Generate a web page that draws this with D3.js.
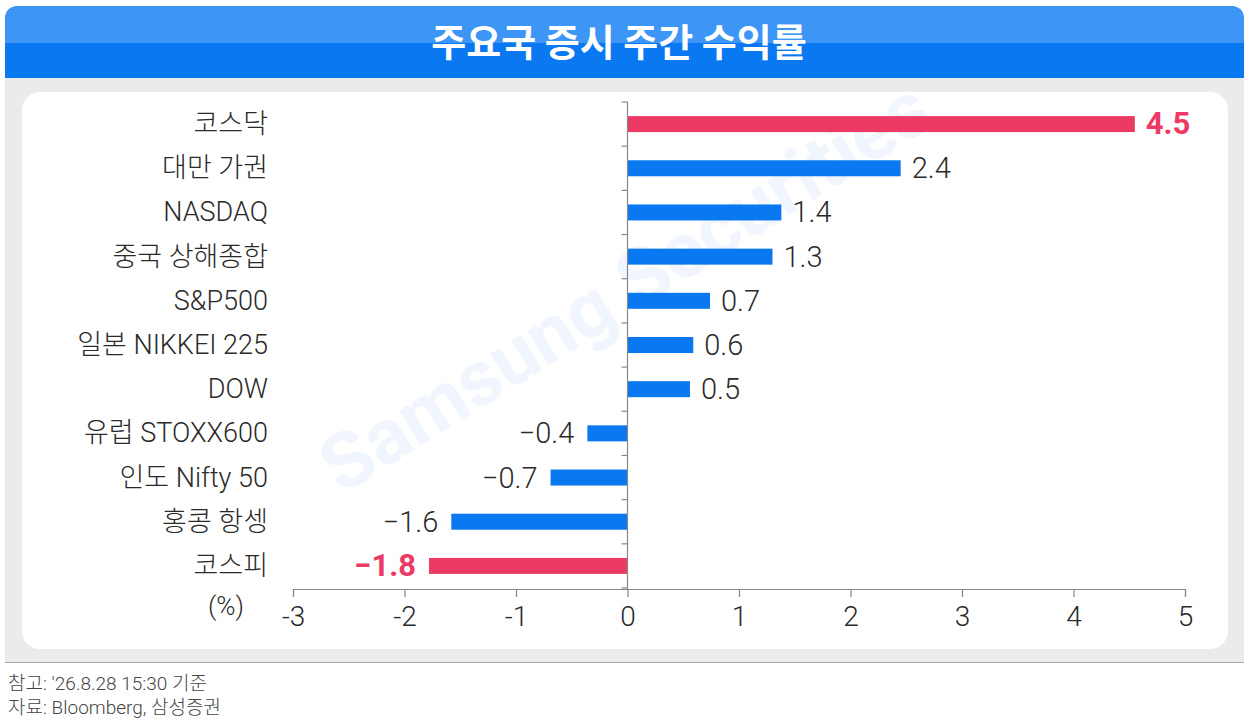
<!DOCTYPE html>
<html>
<head>
<meta charset="utf-8">
<script src="https://cdn.jsdelivr.net/npm/d3@7"></script>
<style>
  body { margin: 0; background: #fff; }
  svg { display: block; font-family: Roboto, "Noto Sans CJK KR", sans-serif; }
</style>
</head>
<body>
<svg id="chart" width="1255" height="721"></svg>
<script>
// Data
const categories = ["코스닥", "대만 가권", "NASDAQ", "중국 상해종합", "S&P500", "일본 NIKKEI 225",
                    "DOW", "유럽 STOXX600", "인도 Nifty 50", "홍콩 항셍", "코스피"];
const values = [4.55, 2.45, 1.38, 1.3, 0.74, 0.59, 0.56, -0.36, -0.69, -1.58, -1.78];
const valueLabels = ["4.5", "2.4", "1.4", "1.3", "0.7", "0.6", "0.5", "−0.4", "−0.7", "−1.6", "−1.8"];
const highlight = ["코스닥", "코스피"];
const xTicks = [-3, -2, -1, 0, 1, 2, 3, 4, 5];

const svg = d3.select("#chart");
const blue = "#0a78f0", red = "#ec3a65";

// Panel + header
svg.append("rect").attr("x", 5).attr("y", 60).attr("width", 1239).attr("height", 603).attr("fill", "#ebebeb");
svg.append("line").attr("x1", 5).attr("x2", 1244).attr("y1", 662.5).attr("y2", 662.5)
    .attr("stroke", "#a8a8a8").attr("stroke-width", 1);
svg.append("path")
    .attr("d", "M5,78 L5,20 Q5,6 19,6 L1230,6 Q1244,6 1244,20 L1244,78 Z")
    .attr("fill", blue);
svg.append("path")
    .attr("d", "M5,43 L5,20 Q5,6 19,6 L1230,6 Q1244,6 1244,20 L1244,43 Z")
    .attr("fill", "#3d95f6");
svg.append("text")
    .attr("x", 619).attr("y", 56).attr("text-anchor", "middle")
    .attr("fill", "#fff").attr("font-size", 38).attr("font-weight", 700)
    .attr("font-family", "'Noto Sans CJK KR', sans-serif")
    .text("주요국 증시 주간 수익률");

svg.append("rect").attr("x", 22).attr("y", 92).attr("width", 1206).attr("height", 557)
    .attr("rx", 18).attr("fill", "#fff");

// Watermark
svg.append("text")
    .attr("transform", "translate(628,292) rotate(-32)")
    .attr("text-anchor", "middle").attr("dominant-baseline", "middle")
    .attr("font-size", 78).attr("font-weight", 700)
    .attr("fill", "#2f6cf0").attr("fill-opacity", 0.07)
    .text("Samsung Securities");

// Scales
const x = d3.scaleLinear().domain([-3, 5]).range([293, 1185]);
const y = d3.scaleBand().domain(categories).range([102, 588]).paddingInner(0).paddingOuter(0);
const barH = 16;

// Bars
svg.append("g").selectAll("rect")
    .data(values)
    .join("rect")
    .attr("x", d => x(Math.min(0, d)))
    .attr("width", d => Math.abs(x(d) - x(0)))
    .attr("y", (d, i) => y(categories[i]) + y.bandwidth() / 2 - barH / 2)
    .attr("height", barH)
    .attr("fill", (d, i) => highlight.includes(categories[i]) ? red : blue);

// Value labels
svg.append("g").selectAll("text")
    .data(values)
    .join("text")
    .attr("x", d => d >= 0 ? x(d) + 11 : x(d) - 13)
    .attr("y", (d, i) => y(categories[i]) + y.bandwidth() / 2 + 10)
    .attr("text-anchor", d => d >= 0 ? "start" : "end")
    .attr("font-size", (d, i) => highlight.includes(categories[i]) ? 31 : 29)
    .attr("font-weight", (d, i) => highlight.includes(categories[i]) ? 700 : 300)
    .attr("fill", (d, i) => highlight.includes(categories[i]) ? red : "#2a2a2a")
    .text((d, i) => valueLabels[i]);

// Category labels
svg.append("g").selectAll("text")
    .data(categories)
    .join("text")
    .attr("x", 268)
    .attr("y", d => y(d) + y.bandwidth() / 2 + 9)
    .attr("text-anchor", "end")
    .attr("font-size", 27).attr("font-weight", 300)
    .attr("fill", "#2a2a2a")
    .text(d => d);

// Y axis line with ticks at band edges
const yAxis = svg.append("g").attr("transform", "translate(" + x(0) + ",0)");
yAxis.append("line").attr("y1", 102).attr("y2", 589).attr("stroke", "#888").attr("stroke-width", 1.2);
yAxis.selectAll("line.tk")
    .data(d3.range(categories.length + 1))
    .join("line").attr("class", "tk")
    .attr("x1", -6).attr("x2", 0)
    .attr("y1", i => 102 + i * y.step()).attr("y2", i => 102 + i * y.step())
    .attr("stroke", "#888").attr("stroke-width", 1.2);

// X axis
const xAxis = d3.axisBottom(x)
    .tickValues(xTicks)
    .tickSize(8)
    .tickPadding(9)
    .tickFormat(d => d < 0 ? "-" + Math.abs(d) : d);
const gx = svg.append("g").attr("transform", "translate(0,589)").call(xAxis);
gx.select(".domain").attr("stroke", "#888").attr("stroke-width", 1.2);
gx.selectAll(".tick line").attr("stroke", "#888").attr("stroke-width", 1.2);
gx.selectAll(".tick text")
    .attr("font-size", 28).attr("font-weight", 300)
    .attr("font-family", "Roboto, sans-serif")
    .attr("fill", "#2a2a2a");

svg.append("text")
    .attr("x", 226).attr("y", 615).attr("text-anchor", "middle")
    .attr("font-size", 26).attr("font-weight", 300).attr("fill", "#2a2a2a")
    .text("(%)");

// Footer
const notes = ["참고: '26.8.28 15:30 기준", "자료: Bloomberg, 삼성증권"];
svg.append("g").selectAll("text")
    .data(notes)
    .join("text")
    .attr("x", 8)
    .attr("y", (d, i) => 690 + i * 24)
    .attr("font-size", 19).attr("font-weight", 300)
    .attr("fill", "#444")
    .text(d => d);
</script>
</body>
</html>
